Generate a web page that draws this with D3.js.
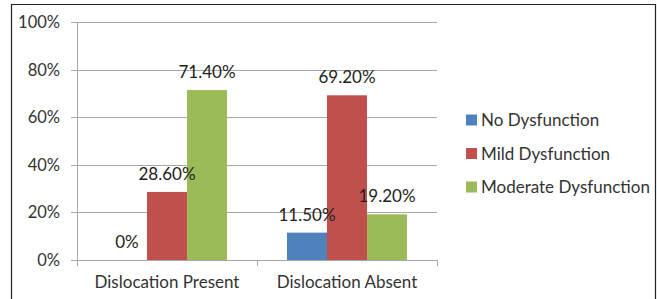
<!DOCTYPE html>
<html>
<head>
<meta charset="utf-8">
<script src="https://cdn.jsdelivr.net/npm/d3@7"></script>
<style>
  body { margin: 0; background: #fff; }
  text { font-family: Lato, "Open Sans", sans-serif; }
</style>
</head>
<body>
<div class="chart"></div>
<script>
var categories = ["Dislocation Present", "Dislocation Absent"];
var seriesNames = ["No Dysfunction", "Mild Dysfunction", "Moderate Dysfunction"];
var seriesColors = ["#4f81bd", "#c0504d", "#9bbb59"];
var noDysfunction = [0, 11.5];
var mildDysfunction = [28.6, 69.2];
var moderateDysfunction = [71.4, 19.2];
var valueLabels = [["0%", "28.60%", "71.40%"], ["11.50%", "69.20%", "19.20%"]];
var yTicks = [0, 20, 40, 60, 80, 100];

var svgWidth = 657;
var svgHeight = 299;

var margin = { top: 22, right: 220, bottom: 39, left: 77 };
var width = 437 - margin.left;
var height = 260 - margin.top;

var svg = d3.select(".chart")
  .append("svg")
  .attr("width", svgWidth)
  .attr("height", svgHeight);

// outer frame (bottom edge is cut off in the picture)
svg.append("path")
  .attr("d", "M11.5,310 V4.5 H655.5 V310")
  .attr("fill", "none")
  .attr("stroke", "#222")
  .attr("stroke-width", 1.2);

var chartGroup = svg.append("g")
  .attr("transform", `translate(${margin.left}, ${margin.top})`);

var data = categories.map(function(c, i) {
  return { cat: c, values: [noDysfunction[i], mildDysfunction[i], moderateDysfunction[i]] };
});

var x0 = d3.scaleBand()
  .domain(categories)
  .range([0, width])
  .paddingInner(0)
  .paddingOuter(0);

var x1 = d3.scaleBand()
  .domain(d3.range(seriesNames.length))
  .range([30, x0.bandwidth() - 30]);

var yScale = d3.scaleLinear()
  .domain([0, 100])
  .range([height, 0]);

// gridlines
chartGroup.selectAll(".grid")
  .data(yTicks)
  .enter()
  .append("line")
  .attr("x1", -6)
  .attr("x2", width)
  .attr("y1", d => Math.round(yScale(d)) + 0.5)
  .attr("y2", d => Math.round(yScale(d)) + 0.5)
  .attr("stroke", "#a6a6a6")
  .attr("stroke-width", 1);

// y axis line
chartGroup.append("line")
  .attr("x1", 0.5).attr("x2", 0.5)
  .attr("y1", 0).attr("y2", height)
  .attr("stroke", "#a6a6a6");

// y tick labels
chartGroup.selectAll(".ylab")
  .data(yTicks)
  .enter()
  .append("text")
  .attr("x", -17)
  .attr("y", d => yScale(d))
  .attr("dy", "0.36em")
  .attr("text-anchor", "end")
  .attr("font-size", "16.5px")
  .attr("fill", "#333")
  .text(d => d + "%");

// x category ticks
var xTickPos = [0].concat(categories.map(c => x0(c) + x0.bandwidth()));
chartGroup.selectAll(".xtick")
  .data(xTickPos)
  .enter()
  .append("line")
  .attr("x1", d => Math.round(d) + 0.5)
  .attr("x2", d => Math.round(d) + 0.5)
  .attr("y1", height)
  .attr("y2", height + 6)
  .attr("stroke", "#a6a6a6");

// category labels
chartGroup.selectAll(".xlab")
  .data(categories)
  .enter()
  .append("text")
  .attr("x", d => x0(d) + x0.bandwidth() / 2)
  .attr("y", height + 28)
  .attr("text-anchor", "middle")
  .attr("font-size", "17px")
  .attr("fill", "#333")
  .text(d => d);

var groups = chartGroup.selectAll(".group")
  .data(data)
  .enter()
  .append("g")
  .attr("transform", d => `translate(${x0(d.cat)}, 0)`);

groups.selectAll("rect")
  .data(d => d.values)
  .enter()
  .append("rect")
  .attr("x", (d, i) => x1(i))
  .attr("y", d => yScale(d))
  .attr("width", x1.bandwidth())
  .attr("height", d => height - yScale(d))
  .attr("fill", (d, i) => seriesColors[i]);

groups.selectAll(".vlab")
  .data((d, gi) => d.values.map((v, i) => ({ v: v, i: i, label: valueLabels[gi][i] })))
  .enter()
  .append("text")
  .attr("x", d => x1(d.i) + x1.bandwidth() / 2)
  .attr("y", d => yScale(d.v) - 12)
  .attr("text-anchor", "middle")
  .attr("font-size", "17px")
  .attr("fill", "#222")
  .text(d => d.label);

// legend
var legend = svg.selectAll(".legend")
  .data(seriesNames)
  .enter()
  .append("g")
  .attr("transform", (d, i) => `translate(466, ${120 + i * 33.5})`);

legend.append("rect")
  .attr("x", 0)
  .attr("y", -5.5)
  .attr("width", 11)
  .attr("height", 11)
  .attr("fill", (d, i) => seriesColors[i]);

legend.append("text")
  .attr("x", 15)
  .attr("y", 0)
  .attr("dy", "0.36em")
  .attr("font-size", "17px")
  .attr("fill", "#333")
  .text(d => d);
</script>
</body>
</html>
